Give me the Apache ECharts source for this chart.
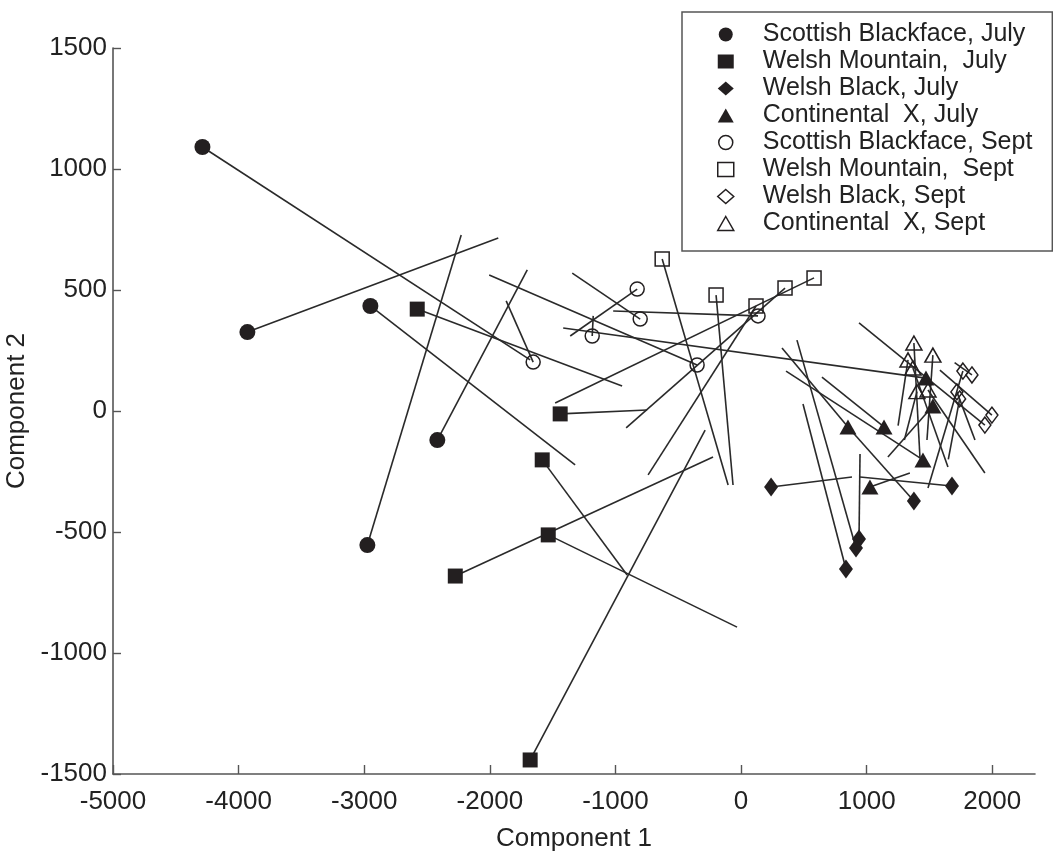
<!DOCTYPE html>
<html>
<head>
<meta charset="utf-8">
<script src="https://cdn.jsdelivr.net/npm/echarts@6/dist/echarts.min.js"></script>
<style>
  html, body { margin: 0; padding: 0; background: #fff; }
  #chart { width: 1053px; height: 852px; }
</style>
</head>
<body>
<div id="chart"></div>
<script>
(function () {
  // each row: [component1, component2, end of segment x, end of segment y]
  var sbJuly = [
    [-4288, 1091, -1679, 211],
    [-3930, 326, -1933, 715],
    [-2951, 434, -1321, -223],
    [-2418, -120, -1702, 583],
    [-2975, -554, -2228, 727]
  ];
  var wmJuly = [
    [-2578, 421, -947, 103],
    [-1440, -12, -748, 4],
    [-1583, -202, -907, -678],
    [-1535, -512, -32, -893],
    [-2275, -682, -223, -190],
    [-1679, -1442, -286, -79]
  ];
  var wbJuly = [
    [239, -314, 883, -273],
    [1679, -310, 947, -273],
    [1376, -372, 851, -66],
    [939, -529, 947, -178],
    [915, -566, 445, 293],
    [835, -653, 493, 29]
  ];
  var cxJuly = [
    [1472, 136, -1416, 343],
    [1527, 21, 1169, -190],
    [1138, -66, 644, 140],
    [851, -66, 326, 260],
    [1448, -202, 358, 165],
    [1026, -314, 1344, -256]
  ];
  var sbSept = [
    [-1655, 202, -1870, 455],
    [-827, 504, -1360, 310],
    [-803, 380, -1344, 570],
    [-1185, 310, -1177, 393],
    [-350, 190, -2005, 562],
    [135, 393, -1018, 413]
  ];
  var wmSept = [
    [-628, 628, -103, -306],
    [-199, 479, -64, -306],
    [119, 434, -740, -264],
    [350, 508, -915, -70],
    [581, 550, -1480, 33]
  ];
  var wbSept = [
    [1766, 165, 1488, -318],
    [1838, 149, 1700, 200],
    [1718, 79, 1862, -120],
    [1941, -58, 939, 364],
    [1997, -17, 1583, 169],
    [1740, 50, 1650, -200]
  ];
  var cxSept = [
    [1376, 281, 1424, -190],
    [1527, 231, 1480, -120],
    [1329, 211, 1250, -60],
    [1368, 178, 1647, -231],
    [1488, 87, 1941, -256],
    [1400, 80, 1300, -120]
  ];

  var groupNames = [
    "Scottish Blackface, July",
    "Welsh Mountain,  July",
    "Welsh Black, July",
    "Continental  X, July",
    "Scottish Blackface, Sept",
    "Welsh Mountain,  Sept",
    "Welsh Black, Sept",
    "Continental  X, Sept"
  ];
  var xTicks = [-5000, -4000, -3000, -2000, -1000, 0, 1000, 2000];
  var groups = [sbJuly, wmJuly, wbJuly, cxJuly, sbSept, wmSept, wbSept, cxSept];
  var symbols = ["circle", "rect", "diamond", "triangle", "circle", "rect", "diamond", "triangle"];
  var sizes = [16, 15, [14, 19], [17, 15], 14, 14, [12, 16], [16, 14]];
  var ink = "#231f20";

  var segments = [];
  groups.forEach(function (g) {
    g.forEach(function (p) {
      segments.push({ coords: [[p[0], p[1]], [p[2], p[3]]] });
    });
  });

  var series = [
    {
      type: "lines",
      coordinateSystem: "cartesian2d",
      data: segments,
      silent: true,
      z: 1,
      lineStyle: { color: "#2a2a2a", width: 1.6, opacity: 1 }
    }
  ];
  groups.forEach(function (g, i) {
    var open = i >= 4;
    series.push({
      name: groupNames[i],
      type: "scatter",
      data: g.map(function (p) { return [p[0], p[1]]; }),
      symbol: symbols[i],
      symbolSize: sizes[i],
      z: 3,
      itemStyle: open
        ? { color: "rgba(255,255,255,0)", borderColor: ink, borderWidth: 1.5, opacity: 1 }
        : { color: ink, opacity: 1 }
    });
  });

  var myChart = echarts.init(document.getElementById("chart"), null, { renderer: "canvas" });
  var font = "Liberation Sans, Arial, Helvetica, sans-serif";

  myChart.setOption({
    animation: false,
    backgroundColor: "#fff",
    textStyle: { fontFamily: font },
    grid: { left: 113, right: 18, top: 48, bottom: 78, containLabel: false, outerBoundsMode: "none" },
    legend: {
      orient: "vertical",
      left: 682,
      top: 12,
      padding: [10, 20, 15, 35],
      itemWidth: 16,
      itemHeight: 14,
      itemGap: 2,
      symbolKeepAspect: true,
      borderColor: "#555",
      borderWidth: 1.5,
      selectedMode: false,
      textStyle: { fontSize: 25, color: "#222", fontFamily: font, lineHeight: 25, padding: [0, 0, 0, 24] },
      data: groupNames.map(function (n, i) {
        var open = i >= 4;
        return {
          name: n,
          icon: symbols[i],
          itemStyle: open
            ? { color: "rgba(255,255,255,0)", borderColor: ink, borderWidth: 1.5 }
            : { color: ink, borderWidth: 0 }
        };
      })
    },
    xAxis: {
      type: "value",
      min: -5000,
      max: 2340,
      interval: 1000,
      name: "Component 1",
      nameLocation: "middle",
      nameGap: 52,
      nameTextStyle: { fontSize: 26, color: "#222", fontFamily: font },
      splitLine: { show: false },
      axisLine: { onZero: false, lineStyle: { color: "#555", width: 1.6 } },
      axisTick: {
        inside: true, length: 9, lineStyle: { color: "#555", width: 1.4 },
        customValues: xTicks
      },
      axisLabel: {
        fontSize: 26, color: "#222", margin: 15,
        customValues: xTicks,
        formatter: function (v) { return String(v); }
      }
    },
    yAxis: {
      type: "value",
      min: -1500,
      max: 1500,
      interval: 500,
      name: "Component 2",
      nameLocation: "middle",
      nameGap: 66,
      nameTextStyle: { fontSize: 26, color: "#222", fontFamily: font },
      splitLine: { show: false },
      axisLine: { onZero: false, lineStyle: { color: "#555", width: 1.6 } },
      axisTick: { inside: true, length: 8, lineStyle: { color: "#555", width: 1.4 } },
      axisLabel: {
        fontSize: 26, color: "#222", margin: 6,
        formatter: function (v) { return String(v); }
      }
    },
    series: series
  });

  window.addEventListener("resize", function () {
    myChart.resize();
  });
})();
</script>
</body>
</html>
